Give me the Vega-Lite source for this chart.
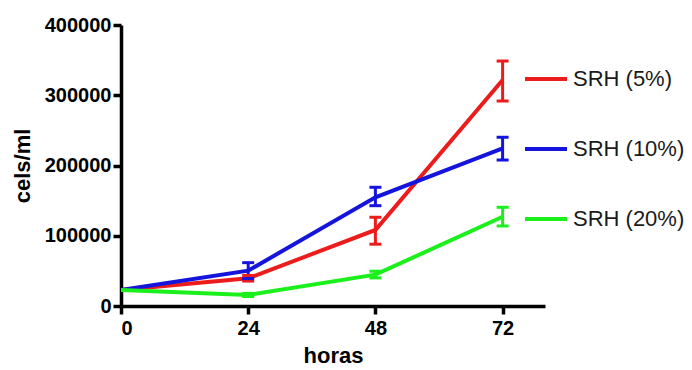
{
  "$schema": "https://vega.github.io/schema/vega-lite/v6.json",
  "width": 424,
  "height": 281,
  "autosize": {"type": "none"},
  "padding": {"left": 121, "top": 25, "right": 147, "bottom": 64},
  "background": "white",
  "config": {
    "view": {"stroke": null},
    "font": "Liberation Sans",
    "axis": {
      "domainColor": "black", "domainWidth": 3.5, "tickColor": "black", "tickWidth": 3.5, "tickSize": 8,
      "labelFont": "Liberation Sans", "labelFontWeight": "bold", "labelFontSize": 20, "labelColor": "black",
      "titleFont": "Liberation Sans", "titleFontWeight": "bold", "titleFontSize": 22, "titleColor": "black",
      "grid": false
    }
  },
  "data": {
    "values": [
      {"hora": 0, "serie": "SRH (5%)", "media": 22800, "lo": null, "hi": null},
      {"hora": 24, "serie": "SRH (5%)", "media": 39400, "lo": 35500, "hi": 43500},
      {"hora": 48, "serie": "SRH (5%)", "media": 108200, "lo": 88000, "hi": 126300},
      {"hora": 72, "serie": "SRH (5%)", "media": 321700, "lo": 291800, "hi": 348700},
      {"hora": 0, "serie": "SRH (10%)", "media": 22800, "lo": null, "hi": null},
      {"hora": 24, "serie": "SRH (10%)", "media": 50300, "lo": 39000, "hi": 61700},
      {"hora": 48, "serie": "SRH (10%)", "media": 154700, "lo": 142800, "hi": 169000},
      {"hora": 72, "serie": "SRH (10%)", "media": 224400, "lo": 207800, "hi": 240200},
      {"hora": 0, "serie": "SRH (20%)", "media": 22800, "lo": null, "hi": null},
      {"hora": 24, "serie": "SRH (20%)", "media": 15700, "lo": 13500, "hi": 18000},
      {"hora": 48, "serie": "SRH (20%)", "media": 44600, "lo": 40000, "hi": 49500},
      {"hora": 72, "serie": "SRH (20%)", "media": 127100, "lo": 113900, "hi": 140500}
    ]
  },
  "encoding": {
    "x": {
      "field": "hora", "type": "quantitative",
      "scale": {"domain": [0, 80], "nice": false},
      "axis": {"values": [0, 24, 48, 72], "title": "horas", "labelPadding": 4, "titlePadding": 7}
    },
    "color": {
      "field": "serie", "type": "nominal",
      "scale": {"domain": ["SRH (5%)", "SRH (10%)", "SRH (20%)"], "range": ["#ec1c1c", "#1414dc", "#1cf01c"]},
      "legend": {
        "title": null, "orient": "none", "legendX": 402, "legendY": 31,
        "symbolType": "stroke", "symbolSize": 1764, "symbolStrokeWidth": 4, "symbolOpacity": 1,
        "labelFont": "Liberation Sans", "labelFontSize": 22, "labelColor": "#1a1a1a",
        "labelOffset": 4, "rowPadding": 36, "padding": 0, "labelLimit": 300
      }
    }
  },
  "layer": [
    {
      "mark": {"type": "line", "strokeWidth": 4, "opacity": 1},
      "encoding": {
        "y": {
          "field": "media", "type": "quantitative",
          "scale": {"domain": [0, 400000], "nice": false},
          "axis": {"values": [0, 100000, 200000, 300000, 400000], "format": "d", "title": "cels/ml", "labelPadding": 2, "titlePadding": 10}
        }
      }
    },
    {
      "transform": [{"filter": "datum.lo != null"}],
      "mark": {"type": "rule", "strokeWidth": 3, "opacity": 1},
      "encoding": {"y": {"field": "lo", "type": "quantitative"}, "y2": {"field": "hi"}}
    },
    {
      "transform": [{"filter": "datum.lo != null"}],
      "mark": {"type": "tick", "orient": "horizontal", "size": 12, "thickness": 3, "opacity": 1},
      "encoding": {"y": {"field": "lo", "type": "quantitative"}}
    },
    {
      "transform": [{"filter": "datum.lo != null"}],
      "mark": {"type": "tick", "orient": "horizontal", "size": 12, "thickness": 3, "opacity": 1},
      "encoding": {"y": {"field": "hi", "type": "quantitative"}}
    }
  ]
}
